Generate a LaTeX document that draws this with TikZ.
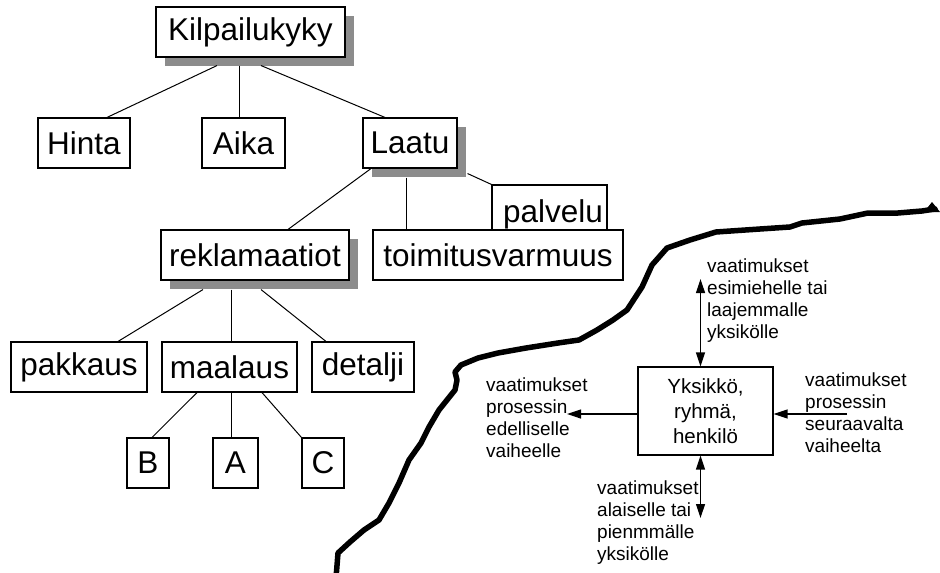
\documentclass[tikz,border=0pt]{standalone}
\usepackage{fontspec}
\setmainfont{Liberation Sans}
\usetikzlibrary{shadows,arrows.meta}
\begin{document}
\begin{tikzpicture}[x=1pt,y=-1pt,
  box/.style={draw=black, line width=1.1pt, fill=white, inner sep=0pt,
    minimum height=50pt, font=\fontsize{31.5}{35}\selectfont},
  shadowed/.style={drop shadow={shadow xshift=9pt,shadow yshift=-8.5pt,
    fill=black!45,opacity=1}},
  link/.style={draw=black, line width=1pt},
  note/.style={align=left, inner sep=0pt, anchor=west,
    font=\fontsize{19}{22}\selectfont},
  flow/.style={line width=1.2pt, -{Triangle[length=14pt,width=9pt]}},
  both/.style={line width=1.2pt, {Triangle[length=14pt,width=9pt]}-{Triangle[length=14pt,width=9pt]}},
  border/.style={line width=5.5pt, line join=round, line cap=round}
]
\useasboundingbox (0,0) rectangle (940,573);

% ---- tree of competitiveness factors ----
\node[box, shadowed, minimum width=189pt] (kil) at (250.5,32) {Kilpailukyky};

\node[box, minimum width=92pt]  (hinta) at (84,143)    {Hinta};
\node[box, minimum width=83pt]  (aika)  at (243.5,143) {Aika};
\node[box, shadowed, minimum width=94pt] (laatu) at (410,143) {Laatu};

\node[box, minimum width=115pt, minimum height=45pt] (pal) at (549.5,207.5) {};
\node[anchor=base, inner sep=0pt, font=\fontsize{31.5}{35}\selectfont] (paltxt)
  at ([xshift=3.5pt,yshift=8pt]pal.south) {palvelu};

\node[box, shadowed, minimum width=188pt] (rek) at (255,255) {reklamaatiot};
\node[box, minimum width=250pt] (toim) at (498,255) {toimitusvarmuus};

\node[box, minimum width=136pt] (pak) at (79,367)    {pakkaus};
\node[box, minimum width=135pt] (maa) at (229.5,367) {maalaus};
\node[box, minimum width=102pt] (det) at (363,367)   {detalji};

\node[box, minimum width=42pt] (nb) at (148,463)   {B};
\node[box, minimum width=45pt] (na) at (235.5,463) {A};
\node[box, minimum width=42pt] (nc) at (323,463)   {C};

% connectors of the tree
\draw[link] ([xshift=-33.5pt,yshift=-8pt]kil.south) -- ([xshift=23pt]hinta.north);
\draw[link] ([xshift=-11.5pt,yshift=-8pt]kil.south) -- ([xshift=-4.5pt]aika.north);
\draw[link] ([xshift=10.5pt,yshift=-8pt]kil.south)  -- ([xshift=-25pt]laatu.north);

\draw[link] ([xshift=-39pt]laatu.south) -- ([xshift=33pt]rek.north);
\draw[link] ([xshift=-4pt,yshift=-9pt]laatu.south) -- ([xshift=-92pt]toim.north);
\draw[link] ([xshift=10pt,yshift=-5pt]laatu.south east) -- (pal.north west);

\draw[link] ([xshift=-52pt,yshift=-9pt]rek.south) -- ([xshift=39pt]pak.north);
\draw[link] ([xshift=-24pt,yshift=-9pt]rek.south) -- ([xshift=1.5pt]maa.north);
\draw[link] ([xshift=6pt,yshift=-9pt]rek.south)   -- ([xshift=-37pt]det.north);

\draw[link] ([xshift=-32.5pt]maa.south) -- ([xshift=4pt]nb.north);
\draw[link] ([xshift=1.5pt]maa.south)   -- ([xshift=-4.5pt]na.north);
\draw[link] ([xshift=32.5pt]maa.south)  -- (nc.north west);

% ---- boundary line ----
\draw[border] (336,578) -- (338,553) -- (350,542) -- (364,530) -- (379,520)
  -- (389,503) -- (399,483) -- (409,460) -- (421,443) -- (429,427)
  -- (439,410) -- (447,400) -- (455,390) -- (457,380) -- (455,372)
  -- (461,365) -- (478,358) -- (498,353) -- (526,348) -- (558,343)
  -- (579,340) -- (597,330) -- (613,320) -- (627,310) -- (642,287)
  -- (652,265) -- (667,248) -- (690,240) -- (716,232) -- (760,229)
  -- (790,227) -- (802,223) -- (840,219) -- (868,213) -- (898,213)
  -- (922,211) -- (935,209);
\fill (924,212) -- (932,202) -- (940,212) -- cycle;

% ---- unit and its requirement flows ----
\node[draw=black, line width=1.1pt, minimum width=135pt, minimum height=88pt,
  inner sep=0pt, align=center, font=\fontsize{20.5}{25}\selectfont]
  (yk) at (705.5,411) {Yksikkö,\\ryhmä,\\henkilö};

\coordinate (uptip)    at (700.5,279);
\coordinate (downtip)  at (700.5,518);
\coordinate (lefttip)  at (567,414);
\coordinate (rightsrc) at (847,414);

\draw[both] ([xshift=-5pt]yk.north) -- (uptip);
\draw[both] ([xshift=-5pt]yk.south) -- (downtip);
\draw[flow] ([yshift=-3pt]yk.west) -- (lefttip);
\draw[flow] (rightsrc) -- ([yshift=-3pt]yk.east);

\node[note] (upnote)    at (707,300.9) {vaatimukset\\esimiehelle tai\\laajemmalle\\yksikölle};
\node[note] (downnote)  at (597,522.2) {vaatimukset\\alaiselle tai\\pienmmälle\\yksikölle};
\node[note] (leftnote)  at (486,418.0) {vaatimukset\\prosessin\\edelliselle\\vaiheelle};
\node[note] (rightnote) at (805,413.0) {vaatimukset\\prosessin\\seuraavalta\\vaiheelta};
\end{tikzpicture}
\end{document}
